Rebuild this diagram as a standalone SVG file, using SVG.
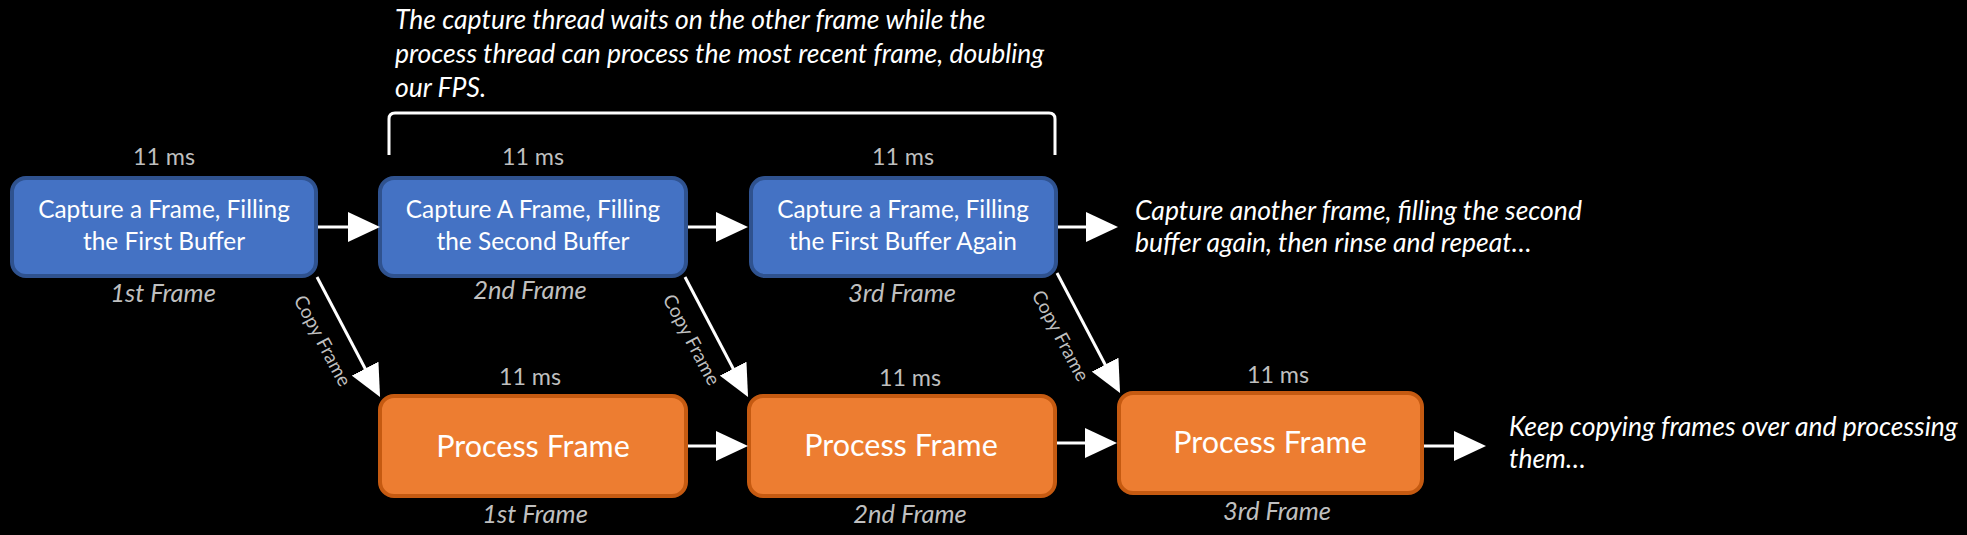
<svg xmlns="http://www.w3.org/2000/svg" width="1967" height="535" viewBox="0 0 1967 535">
<style>
.bg{fill:#000}
.blue{fill:#4472C4;stroke:#2F528F;stroke-width:4}
.orange{fill:#ED7D31;stroke:#C55A11;stroke-width:4}
.bt{font-family:Lato,"Liberation Sans",sans-serif;font-size:24.4px;fill:#fff;text-anchor:middle}
.pt{font-family:Lato,"Liberation Sans",sans-serif;font-size:30.5px;fill:#fff;text-anchor:middle}
.ms{font-family:Lato,"Liberation Sans",sans-serif;font-size:23.3px;fill:#BFBFBF;text-anchor:middle}
.fl{font-family:Lato,"Liberation Sans",sans-serif;font-size:25.5px;font-style:italic;fill:#BFBFBF;text-anchor:middle}
.note{font-family:Lato,"Liberation Sans",sans-serif;font-size:26.5px;font-style:italic;fill:#fff}
.cf{font-family:Lato,"Liberation Sans",sans-serif;font-size:19px;fill:#BFBFBF;text-anchor:middle}
.conn{stroke:#fff;stroke-width:3;fill:none}
</style>
<defs>
<marker id="ah" viewBox="0 0 32 30" markerWidth="32" markerHeight="30" refX="16" refY="15" orient="auto" markerUnits="userSpaceOnUse">
<path d="M0,0 L32,15 L0,30 z" fill="#fff"/>
</marker>
</defs>
<rect class="bg" x="0" y="0" width="1967" height="535"/>

<g id="title-note">
<text class="note" x="395" y="29">The capture thread waits on the other frame while the</text>
<text class="note" x="395" y="63">process thread can process the most recent frame, doubling</text>
<text class="note" x="395" y="97">our FPS.</text>
<path class="conn" d="M389,155 L389,119 Q389,113 395,113 L1049,113 Q1055,113 1055,119 L1055,155" stroke-width="2.5"/>
</g>

<g id="capture1">
<text class="ms" x="164" y="165">11 ms</text>
<rect class="blue" x="12" y="178" width="304" height="98" rx="14"/>
<text class="bt" x="164" y="218">Capture a Frame, Filling</text>
<text class="bt" x="164" y="250">the First Buffer</text>
<text class="fl" x="163" y="302">1st Frame</text>
</g>

<g id="capture2">
<text class="ms" x="533" y="165">11 ms</text>
<rect class="blue" x="380" y="178" width="306" height="98" rx="14"/>
<text class="bt" x="533" y="218">Capture A Frame, Filling</text>
<text class="bt" x="533" y="250">the Second Buffer</text>
<text class="fl" x="530" y="299">2nd Frame</text>
</g>

<g id="capture3">
<text class="ms" x="903" y="165">11 ms</text>
<rect class="blue" x="751" y="178" width="305" height="98" rx="14"/>
<text class="bt" x="903" y="218">Capture a Frame, Filling</text>
<text class="bt" x="903" y="250">the First Buffer Again</text>
<text class="fl" x="902" y="302">3rd Frame</text>
</g>

<g id="capture-next">
<text class="note" x="1135" y="220">Capture another frame, filling the second</text>
<text class="note" x="1135" y="252">buffer again, then rinse and repeat…</text>
</g>

<g id="process1">
<text class="ms" x="530" y="385">11 ms</text>
<rect class="orange" x="380" y="396" width="306" height="100" rx="14"/>
<text class="pt" x="533" y="457">Process Frame</text>
<text class="fl" x="535" y="523">1st Frame</text>
</g>

<g id="process2">
<text class="ms" x="910" y="386">11 ms</text>
<rect class="orange" x="749" y="396" width="306" height="100" rx="14"/>
<text class="pt" x="901" y="456">Process Frame</text>
<text class="fl" x="910" y="523">2nd Frame</text>
</g>

<g id="process3">
<text class="ms" x="1278" y="383">11 ms</text>
<rect class="orange" x="1119" y="393" width="303" height="100" rx="14"/>
<text class="pt" x="1270" y="453">Process Frame</text>
<text class="fl" x="1277" y="520">3rd Frame</text>
</g>

<g id="process-next">
<text class="note" x="1509" y="436">Keep copying frames over and processing</text>
<text class="note" x="1509" y="468">them…</text>
</g>

<g id="connectors">
<line class="conn" x1="318" y1="227" x2="364" y2="227" marker-end="url(#ah)"/>
<line class="conn" x1="688" y1="227" x2="732" y2="227" marker-end="url(#ah)"/>
<line class="conn" x1="1058" y1="227" x2="1102" y2="227" marker-end="url(#ah)"/>
<line class="conn" x1="688" y1="446" x2="732" y2="446" marker-end="url(#ah)"/>
<line class="conn" x1="1057" y1="443" x2="1101" y2="443" marker-end="url(#ah)"/>
<line class="conn" x1="1424" y1="446" x2="1470" y2="446" marker-end="url(#ah)"/>
<line class="conn" x1="317" y1="277" x2="372.6" y2="382.8" marker-end="url(#ah)"/>
<line class="conn" x1="685" y1="277" x2="740.6" y2="382.8" marker-end="url(#ah)"/>
<line class="conn" x1="1057" y1="273" x2="1112.6" y2="378.8" marker-end="url(#ah)"/>
<text class="cf" transform="translate(322,341) rotate(62)" y="6">Copy Frame</text>
<text class="cf" transform="translate(691,340) rotate(62)" y="6">Copy Frame</text>
<text class="cf" transform="translate(1060,336) rotate(62)" y="6">Copy Frame</text>
</g>
</svg>
